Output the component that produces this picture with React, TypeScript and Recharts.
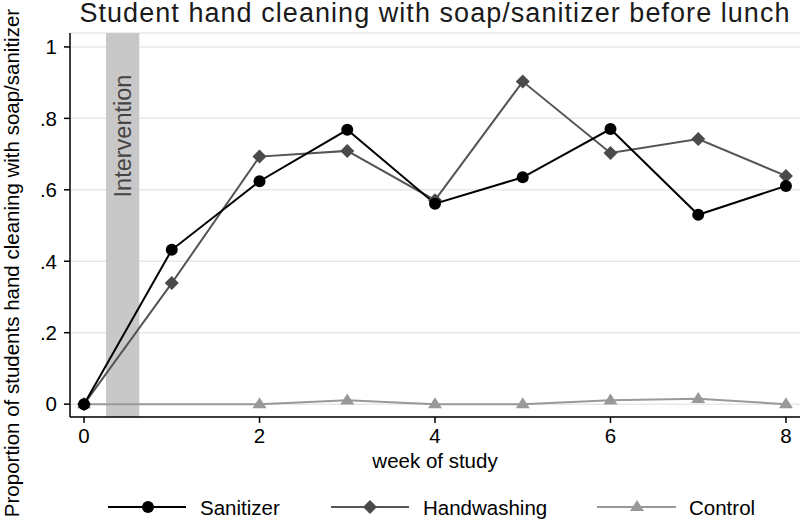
import React from 'react';
import { LineChart, Line, XAxis, YAxis, CartesianGrid, ReferenceArea } from 'recharts';

const weeks = [0, 1, 2, 3, 4, 5, 6, 7, 8];
const sanitizer = [0, 0.432, 0.624, 0.768, 0.561, 0.635, 0.770, 0.530, 0.611];
const handwashing = [0, 0.339, 0.693, 0.709, 0.571, 0.903, 0.703, 0.742, 0.639];
const control: (number | null)[] = [0, null, 0, 0.011, 0, 0, 0.011, 0.015, 0];
const xTicks = [0, 2, 4, 6, 8];
const yTicks = [0, 0.2, 0.4, 0.6, 0.8, 1];
const yTickLabels = ['0', '.2', '.4', '.6', '.8', '1'];
const interventionStart = 0.25;
const interventionEnd = 0.63;

const data = weeks.map((w, i) => ({
  week: w,
  sanitizer: sanitizer[i],
  handwashing: handwashing[i],
  control: control[i],
}));

const FONT = '"Liberation Sans", Arial, Helvetica, sans-serif';
const C_SAN = '#000000';
const C_HAND = '#555555';
const C_HAND_M = '#4a4a4a';
const C_CTRL = '#999999';

const Diamond = (props: any) => {
  const { cx, cy, index } = props;
  if (cx == null || cy == null) return <g key={`dm-${index}`} />;
  const r = 7;
  return (
    <polygon
      key={`dm-${index}`}
      points={`${cx},${cy - r} ${cx + r},${cy} ${cx},${cy + r} ${cx - r},${cy}`}
      fill={C_HAND_M}
      stroke="none"
    />
  );
};

const Triangle = (props: any) => {
  const { cx, cy, index } = props;
  if (cx == null || cy == null || props.value == null) return <g key={`tr-${index}`} />;
  const h = 11;
  const w = 7;
  return (
    <polygon
      key={`tr-${index}`}
      points={`${cx},${cy - h * 0.62} ${cx + w},${cy + h * 0.38} ${cx - w},${cy + h * 0.38}`}
      fill={C_CTRL}
      stroke="none"
    />
  );
};

const Dot = (props: any) => {
  const { cx, cy, index } = props;
  if (cx == null || cy == null) return <g key={`ci-${index}`} />;
  return <circle key={`ci-${index}`} cx={cx} cy={cy} r={6} fill={C_SAN} stroke="none" />;
};

const InterventionLabel = (props: any) => {
  const vb = props.viewBox || {};
  const x = vb.x + vb.width / 2;
  const y = vb.y + 103;
  return (
    <text
      x={x}
      y={y}
      transform={`rotate(-90, ${x}, ${y})`}
      textAnchor="middle"
      dominantBaseline="central"
      fontFamily={FONT}
      fontSize={23.5}
      fill="#444444"
    >
      Intervention
    </text>
  );
};

export default function App() {
  return (
    <div style={{ position: 'absolute', left: 0, top: 0, width: 800, height: 527, background: '#fff' }}>
      <LineChart
        width={800}
        height={527}
        data={data}
        margin={{ top: 33, right: 0, left: 30, bottom: 80 }}
      >
        <CartesianGrid horizontal vertical={false} stroke="#e8e8e8" strokeWidth={1.5} />
        <ReferenceArea
          x1={interventionStart}
          x2={interventionEnd}
          fill="#c8c8c8"
          fillOpacity={1}
          stroke="none"
          label={<InterventionLabel />}
        />
        <XAxis
          type="number"
          dataKey="week"
          domain={[-0.16, 8.16]}
          allowDataOverflow
          ticks={xTicks}
          height={30}
          tickSize={6}
          tickMargin={5}
          axisLine={{ stroke: '#000', strokeWidth: 1.5 }}
          tickLine={{ stroke: '#000', strokeWidth: 1.5 }}
          tick={{ fill: '#000', fontSize: 20.5, fontFamily: FONT }}
        />
        <YAxis
          type="number"
          domain={[-0.036, 1.039]}
          allowDataOverflow
          ticks={yTicks}
          width={40}
          tickSize={6}
          tickMargin={7}
          tickFormatter={(v: number) => {
            const i = yTicks.findIndex((t) => Math.abs(t - v) < 1e-6);
            return i >= 0 ? yTickLabels[i] : String(v);
          }}
          axisLine={{ stroke: '#000', strokeWidth: 1.5 }}
          tickLine={{ stroke: '#000', strokeWidth: 1.5 }}
          tick={{ fill: '#000', fontSize: 20.5, fontFamily: FONT }}
        />
        <Line
          type="linear"
          dataKey="control"
          stroke={C_CTRL}
          strokeWidth={2}
          connectNulls
          dot={Triangle}
          activeDot={false}
          isAnimationActive={false}
        />
        <Line
          type="linear"
          dataKey="handwashing"
          stroke={C_HAND}
          strokeWidth={2}
          dot={Diamond}
          activeDot={false}
          isAnimationActive={false}
        />
        <Line
          type="linear"
          dataKey="sanitizer"
          stroke={C_SAN}
          strokeWidth={2}
          dot={Dot}
          activeDot={false}
          isAnimationActive={false}
        />
      </LineChart>
      <svg
        width={800}
        height={527}
        style={{ position: 'absolute', left: 0, top: 0, pointerEvents: 'none' }}
      >
        <text
          x={435}
          y={21.5}
          textAnchor="middle"
          fontFamily={FONT}
          fontSize={27}
          letterSpacing={1.05}
          fill="#1a1a1a"
        >
          Student hand cleaning with soap/sanitizer before lunch
        </text>
        <text x={435} y={468} textAnchor="middle" fontFamily={FONT} fontSize={20.5} fill="#000">
          week of study
        </text>
        <text
          x={19}
          y={263}
          transform="rotate(-90, 19, 263)"
          textAnchor="middle"
          fontFamily={FONT}
          fontSize={20.5}
          fill="#000"
        >
          Proportion of students hand cleaning with soap/sanitizer
        </text>
        <line x1={108} y1={507} x2={186} y2={507} stroke={C_SAN} strokeWidth={2} />
        <circle cx={148} cy={507} r={6} fill={C_SAN} />
        <text x={200} y={515} fontFamily={FONT} fontSize={20.5} fill="#000">Sanitizer</text>
        <line x1={331} y1={507} x2={409} y2={507} stroke={C_HAND} strokeWidth={2} />
        <polygon points="370,500 377,507 370,514 363,507" fill={C_HAND_M} />
        <text x={423} y={515} fontFamily={FONT} fontSize={20.5} fill="#000">Handwashing</text>
        <line x1={597} y1={507} x2={676} y2={507} stroke={C_CTRL} strokeWidth={2} />
        <polygon points="637,500 644,511 630,511" fill={C_CTRL} />
        <text x={689} y={515} fontFamily={FONT} fontSize={20.5} fill="#000">Control</text>
      </svg>
    </div>
  );
}
